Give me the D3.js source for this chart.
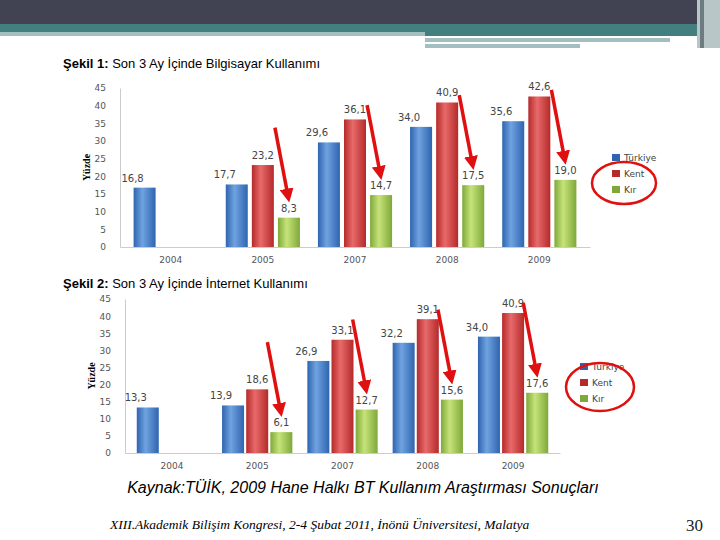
<!DOCTYPE html><html><head><meta charset="utf-8"><script src="https://cdn.jsdelivr.net/npm/d3@7"></script>
<style>body{margin:0}svg{display:block;font-family:"DejaVu Sans"}</style></head><body><script>
const years=["2004","2005","2007","2008","2009"];
const series=["Türkiye","Kent","Kır"];
const pc1=[[16.8,17.7,29.6,34.0,35.6],[null,23.2,36.1,40.9,42.6],[null,8.3,14.7,17.5,19.0]];
const net=[[13.3,13.9,26.9,32.2,34.0],[null,18.6,33.1,39.1,40.9],[null,6.1,12.7,15.6,17.6]];
const yTicks=[0,5,10,15,20,25,30,35,40,45];
const colors=[["#6fa3e0","#2f64b0"],["#e86a6a","#b52a2a"],["#c6e37a","#7fa83a"]];
const svg=d3.select("body").append("svg").attr("width",720).attr("height",540);
const defs=svg.append("defs");
colors.forEach((c,i)=>{const g=defs.append("linearGradient").attr("id","g"+i);
g.append("stop").attr("offset","0").attr("stop-color",c[1]);g.append("stop").attr("offset","0.4").attr("stop-color",c[0]);g.append("stop").attr("offset","1").attr("stop-color",c[1]);});
defs.append("marker").attr("id","ar").attr("viewBox","0 0 10 10").attr("refX",5).attr("refY",5).attr("markerWidth",4).attr("markerHeight",4).attr("orient","auto")
 .append("path").attr("d","M0,0L10,5L0,10z").attr("fill","#e01010");
svg.append("rect").attr("width",720).attr("height",24).attr("fill","#414252");
svg.append("rect").attr("y",24).attr("width",720).attr("height",12).attr("fill","#447f80");
svg.append("rect").attr("y",32).attr("width",425).attr("height",4).attr("fill","#a3bfc1");
svg.append("rect").attr("x",425).attr("y",38).attr("width",245).attr("height",4).attr("fill","#a3bfc1");
svg.append("rect").attr("x",425).attr("y",44).attr("width",155).attr("height",4).attr("fill","#a3bfc1");
svg.append("rect").attr("x",697).attr("width",23).attr("height",48).attr("fill","#b9c6c8");
svg.append("rect").attr("x",700).attr("width",4).attr("height",48).attr("fill","#6d7c80");
function chart(data,title,ty,x0,x1,yb,yt,legX,legY,ell){
 svg.append("text").attr("x",63).attr("y",ty).attr("font-family","Liberation Sans").attr("font-size",13)
  .html(`<tspan font-weight="bold">${title[0]}</tspan> ${title[1]}`);
 const x=d3.scaleBand().domain(years).range([x0,x1]).paddingInner(0.1).paddingOuter(0.1);
 const y=d3.scaleLinear().domain([0,45]).range([yb,yt]);
 const xs=d3.scaleBand().domain(series).range([0,x.bandwidth()]).paddingInner(0.02).paddingOuter(0.1);
 const g=svg.append("g");
 g.append("g").attr("transform",`translate(${x0},0)`).call(d3.axisLeft(y).tickValues(yTicks).tickSize(0).tickPadding(14))
  .call(a=>{a.select(".domain").attr("stroke","#ccc");a.selectAll("text").attr("font-size",9).attr("fill","#555").attr("font-family","DejaVu Sans")});
 g.append("g").attr("transform",`translate(0,${yb})`).call(d3.axisBottom(x).tickSize(0).tickPadding(10))
  .call(a=>{a.select(".domain").attr("stroke","#ccc");a.selectAll("text").attr("font-size",9).attr("fill","#555").attr("font-family","DejaVu Sans")});
 g.append("text").attr("transform",`translate(${x0-30},${(yb+yt)/2}) rotate(-90)`).attr("text-anchor","middle").attr("font-size",10).attr("font-weight","bold").attr("font-family","Liberation Sans Narrow").text("Yüzde");
 series.forEach((s,i)=>{years.forEach((yr,j)=>{const v=data[i][j];if(v==null)return;
  const bx=x(yr)+xs(s),bw=Math.min(xs.bandwidth(),22),cx=bx+xs.bandwidth()/2;
  g.append("rect").attr("x",cx-bw/2).attr("y",y(v)).attr("width",bw).attr("height",yb-y(v)).attr("fill",`url(#g${i})`);
  g.append("text").attr("x",cx-(i==0?12:0)).attr("y",y(v)-6).attr("text-anchor","middle").attr("font-size",10).attr("fill","#444").text(v.toFixed(1).replace(".",","));
  if(i==2){g.append("line").attr("x1",cx-14).attr("y1",y(v)-90).attr("x2",cx-1).attr("y2",y(v)-22).attr("stroke","#e01010").attr("stroke-width",3.5).attr("marker-end","url(#ar)");}
 });});
 series.forEach((s,i)=>{const ly=legY+i*16;
  g.append("rect").attr("x",legX).attr("y",ly-6).attr("width",8).attr("height",7).attr("fill",colors[i][1]);
  g.append("text").attr("x",legX+12).attr("y",ly+1).attr("font-size",9).attr("fill","#444").attr("font-family","DejaVu Sans").text(s);});
 g.append("ellipse").attr("cx",ell[0]).attr("cy",ell[1]).attr("rx",ell[2]).attr("ry",ell[3]).attr("fill","none").attr("stroke","#e01010").attr("stroke-width",2.5);
}
chart(pc1,["Şekil 1:","Son 3 Ay İçinde Bilgisayar Kullanımı"],68,120,590,247,88,612,160,[624,183,32,21]);
chart(net,["Şekil 2:","Son 3 Ay İçinde İnternet Kullanımı"],288,125,560,453,299,580,369,[600,387,34,24]);
svg.append("text").attr("x",363).attr("y",493).attr("text-anchor","middle").attr("font-family","Liberation Sans").attr("font-style","italic").attr("font-size",16).text("Kaynak:TÜİK, 2009 Hane Halkı BT Kullanım Araştırması Sonuçları");
svg.append("text").attr("x",110).attr("y",529).attr("font-family","Liberation Serif").attr("font-style","italic").attr("font-size",13.5).text("XIII.Akademik Bilişim Kongresi, 2-4 Şubat 2011, İnönü Üniversitesi, Malatya");
svg.append("text").attr("x",686).attr("y",531).attr("font-family","Liberation Serif").attr("font-size",17).attr("fill","#222").text("30");
</script></body></html>
